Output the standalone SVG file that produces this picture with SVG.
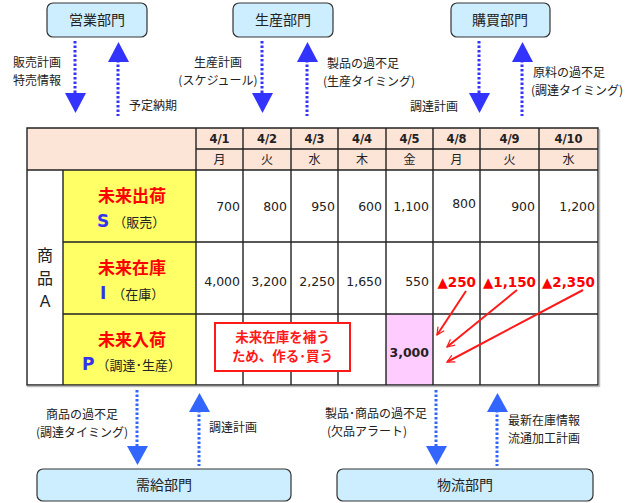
<svg xmlns="http://www.w3.org/2000/svg" width="631" height="503" viewBox="0 0 631 503">
<style>
.dept rect{fill:#cdeeff;stroke:#333;stroke-width:1.2}
.dept text{font-family:"Noto Sans CJK JP","Noto Sans",sans-serif;font-size:14px;fill:#222;text-anchor:middle}
.lbl{font-family:"Noto Sans CJK JP","Noto Sans",sans-serif;font-size:12px;fill:#222}
.dl{stroke:#3333ff;stroke-width:3;stroke-dasharray:2.5 2;fill:none}
.dl2{stroke:#3366ff;stroke-width:3;stroke-dasharray:2.5 2;fill:none}
.hd{fill:#3333ff}
.hd2{fill:#3366ff}
.grid{stroke:#222;stroke-width:1.4;fill:none}
.date{font-family:"DejaVu Sans",Verdana,sans-serif;font-size:11.5px;font-weight:bold;fill:#222;text-anchor:middle}
.day{font-family:"Noto Sans CJK JP",sans-serif;font-size:12px;fill:#222;text-anchor:middle}
.num{font-family:"DejaVu Sans",Verdana,sans-serif;font-size:12.5px;fill:#222;text-anchor:end}
.neg{font-family:"DejaVu Sans",Verdana,sans-serif;font-size:13.5px;font-weight:bold;fill:#ff0000;text-anchor:end}
.ttl{font-family:"Noto Sans CJK JP",sans-serif;font-size:17px;font-weight:bold;fill:#ff0000;text-anchor:middle}
.let{font-family:"DejaVu Sans",Verdana,sans-serif;font-size:17px;font-weight:bold;fill:#3333ee}
.sub{font-family:"Noto Sans CJK JP",sans-serif;font-size:13px;fill:#222}
.red{stroke:#ff1a1a;stroke-width:2;fill:none}
</style>
<defs>
<marker id="oa" viewBox="0 0 12 12" refX="11" refY="6" markerWidth="9" markerHeight="9" markerUnits="userSpaceOnUse" orient="auto">
<path d="M1,1 L11,6 L1,11" fill="none" stroke="#ff1a1a" stroke-width="1.6"/>
</marker>
</defs>

<g id="dept-eigyo" class="dept"><rect x="47" y="3" width="100" height="34" rx="6"/><text x="97" y="25">営業部門</text></g>
<g id="dept-seisan" class="dept"><rect x="233" y="3" width="100" height="34" rx="6"/><text x="283" y="25">生産部門</text></g>
<g id="dept-kobai" class="dept"><rect x="451" y="3" width="99" height="34" rx="6"/><text x="500" y="25">購買部門</text></g>
<g id="dept-jukyu" class="dept"><rect x="37" y="469" width="254" height="32" rx="6"/><text x="164" y="490">需給部門</text></g>
<g id="dept-butsuryu" class="dept"><rect x="337" y="469" width="256" height="32" rx="6"/><text x="465" y="490">物流部門</text></g>

<g id="table">
<rect x="27" y="128" width="571" height="42" fill="#fce4d6"/>
<rect x="63" y="170" width="133" height="215" fill="#ffff66"/>
<rect x="27" y="170" width="36" height="215" fill="#fff"/>
<rect x="196" y="170" width="402" height="215" fill="#fff"/>
<rect x="386" y="314" width="47" height="71" fill="#ffccff"/>
<path class="grid" d="M27,128H598V385H27Z M196,149H598 M27,170H598 M63,242H598 M63,314H598 M63,170V385 M196,128V385 M243,128V385 M291,128V385 M338,128V385 M386,128V385 M433,128V385 M480,128V385 M539,128V385"/>
<line x1="27" y1="386.5" x2="599" y2="386.5" stroke="#bbb" stroke-width="1.5"/>
<line x1="599.5" y1="129" x2="599.5" y2="387" stroke="#bbb" stroke-width="1.5"/>
<g>
<text class="date" x="219.5" y="143">4/1</text><text class="date" x="267" y="143">4/2</text><text class="date" x="314.5" y="143">4/3</text><text class="date" x="362" y="143">4/4</text><text class="date" x="409.5" y="143">4/5</text><text class="date" x="456.5" y="143">4/8</text><text class="date" x="509.5" y="143">4/9</text><text class="date" x="568.5" y="143">4/10</text>
<text class="day" x="219.5" y="164">月</text><text class="day" x="267" y="164">火</text><text class="day" x="314.5" y="164">水</text><text class="day" x="362" y="164">木</text><text class="day" x="409.5" y="164">金</text><text class="day" x="456.5" y="164">月</text><text class="day" x="509.5" y="164">火</text><text class="day" x="568.5" y="164">水</text>
</g>
<g font-family="Noto Sans CJK JP,sans-serif" font-size="16" fill="#222" text-anchor="middle">
<text x="45" y="261">商</text><text x="45" y="284">品</text><text x="45" y="307" font-family="Liberation Sans,sans-serif">A</text>
</g>
<text class="ttl" x="132" y="202">未来出荷</text>
<text x="97" y="227"><tspan class="let">S</tspan><tspan class="sub" dx="4">（販売）</tspan></text>
<text class="ttl" x="132" y="274">未来在庫</text>
<text x="100" y="299"><tspan class="let">I</tspan><tspan class="sub" dx="6">（在庫）</tspan></text>
<text class="ttl" x="132" y="346">未来入荷</text>
<text x="82" y="370"><tspan class="let">P</tspan><tspan class="sub" dx="2">（調達･生産）</tspan></text>
<g>
<text class="num" x="240" y="211">700</text><text class="num" x="287" y="211">800</text><text class="num" x="335" y="211">950</text><text class="num" x="382" y="211">600</text><text class="num" x="429" y="211">1,100</text><text class="num" x="476" y="208">800</text><text class="num" x="535" y="211">900</text><text class="num" x="595" y="211">1,200</text>
<text class="num" x="240" y="286">4,000</text><text class="num" x="287" y="286">3,200</text><text class="num" x="335" y="286">2,250</text><text class="num" x="382" y="286">1,650</text><text class="num" x="429" y="286">550</text>
<text class="neg" x="476" y="287">▲250</text><text class="neg" x="536" y="287">▲1,150</text><text class="neg" x="595" y="287">▲2,350</text>
<text class="num" x="429" y="357" font-weight="bold">3,000</text>
</g>
</g>

<g id="note">
<rect x="215" y="323" width="135" height="48" fill="#fff" stroke="#ff1a1a" stroke-width="2"/>
<text x="282.5" y="342" font-family="Noto Sans CJK JP,sans-serif" font-size="13.5" font-weight="bold" fill="#ff1a1a" text-anchor="middle">未来在庫を補う</text>
<text x="282.5" y="361" font-family="Noto Sans CJK JP,sans-serif" font-size="13.5" font-weight="bold" fill="#ff1a1a" text-anchor="middle">ため、作る･買う</text>
</g>

<g id="connectors">
<line class="red" x1="466" y1="291" x2="437" y2="335" marker-end="url(#oa)"/>
<line class="red" x1="517" y1="290" x2="447" y2="347" marker-end="url(#oa)"/>
<line class="red" x1="583" y1="290" x2="447" y2="362" marker-end="url(#oa)"/>

<line class="dl" x1="75" y1="41" x2="75" y2="94"/><path class="hd" d="M65,93H86L75.5,113Z"/>
<line class="dl" x1="118" y1="60" x2="118" y2="116"/><path class="hd" d="M108,62H129L118.5,42Z"/>
<line class="dl" x1="262" y1="41" x2="262" y2="94"/><path class="hd" d="M252,93H273L262.5,113Z"/>
<line class="dl" x1="307" y1="60" x2="307" y2="116"/><path class="hd" d="M297,62H318L307.5,42Z"/>
<line class="dl" x1="479" y1="41" x2="479" y2="94"/><path class="hd" d="M469,93H490L479.5,113Z"/>
<line class="dl" x1="522" y1="60" x2="522" y2="116"/><path class="hd" d="M512,62H533L522.5,42Z"/>

<line class="dl2" x1="137" y1="390" x2="137" y2="447"/><path class="hd2" d="M127,446H148L137.5,465Z"/>
<line class="dl2" x1="199" y1="410" x2="199" y2="466"/><path class="hd2" d="M189,412H210L199.5,393Z"/>
<line class="dl2" x1="436" y1="390" x2="436" y2="447"/><path class="hd2" d="M426,446H447L436.5,465Z"/>
<line class="dl2" x1="497" y1="410" x2="497" y2="466"/><path class="hd2" d="M487,412H508L497.5,393Z"/>
</g>

<g id="labels" class="lbl">
<text x="13" y="67">販売計画</text><text x="13" y="85">特売情報</text>
<text x="129" y="110">予定納期</text>
<text x="218" y="67" text-anchor="middle">生産計画</text><text x="218" y="85" text-anchor="middle">(スケジュール)</text>
<text x="327" y="68">製品の過不足</text><text x="323" y="86">(生産タイミング)</text>
<text x="410" y="111">調達計画</text>
<text x="533" y="77">原料の過不足</text><text x="531" y="95">(調達タイミング)</text>
<text x="82" y="419" text-anchor="middle">商品の過不足</text><text x="82" y="437" text-anchor="middle">(調達タイミング)</text>
<text x="209" y="432">調達計画</text>
<text x="427" y="418" text-anchor="end">製品･商品の過不足</text><text x="367" y="436" text-anchor="middle">(欠品アラート)</text>
<text x="508" y="425">最新在庫情報</text><text x="508" y="443">流通加工計画</text>
</g>
</svg>
